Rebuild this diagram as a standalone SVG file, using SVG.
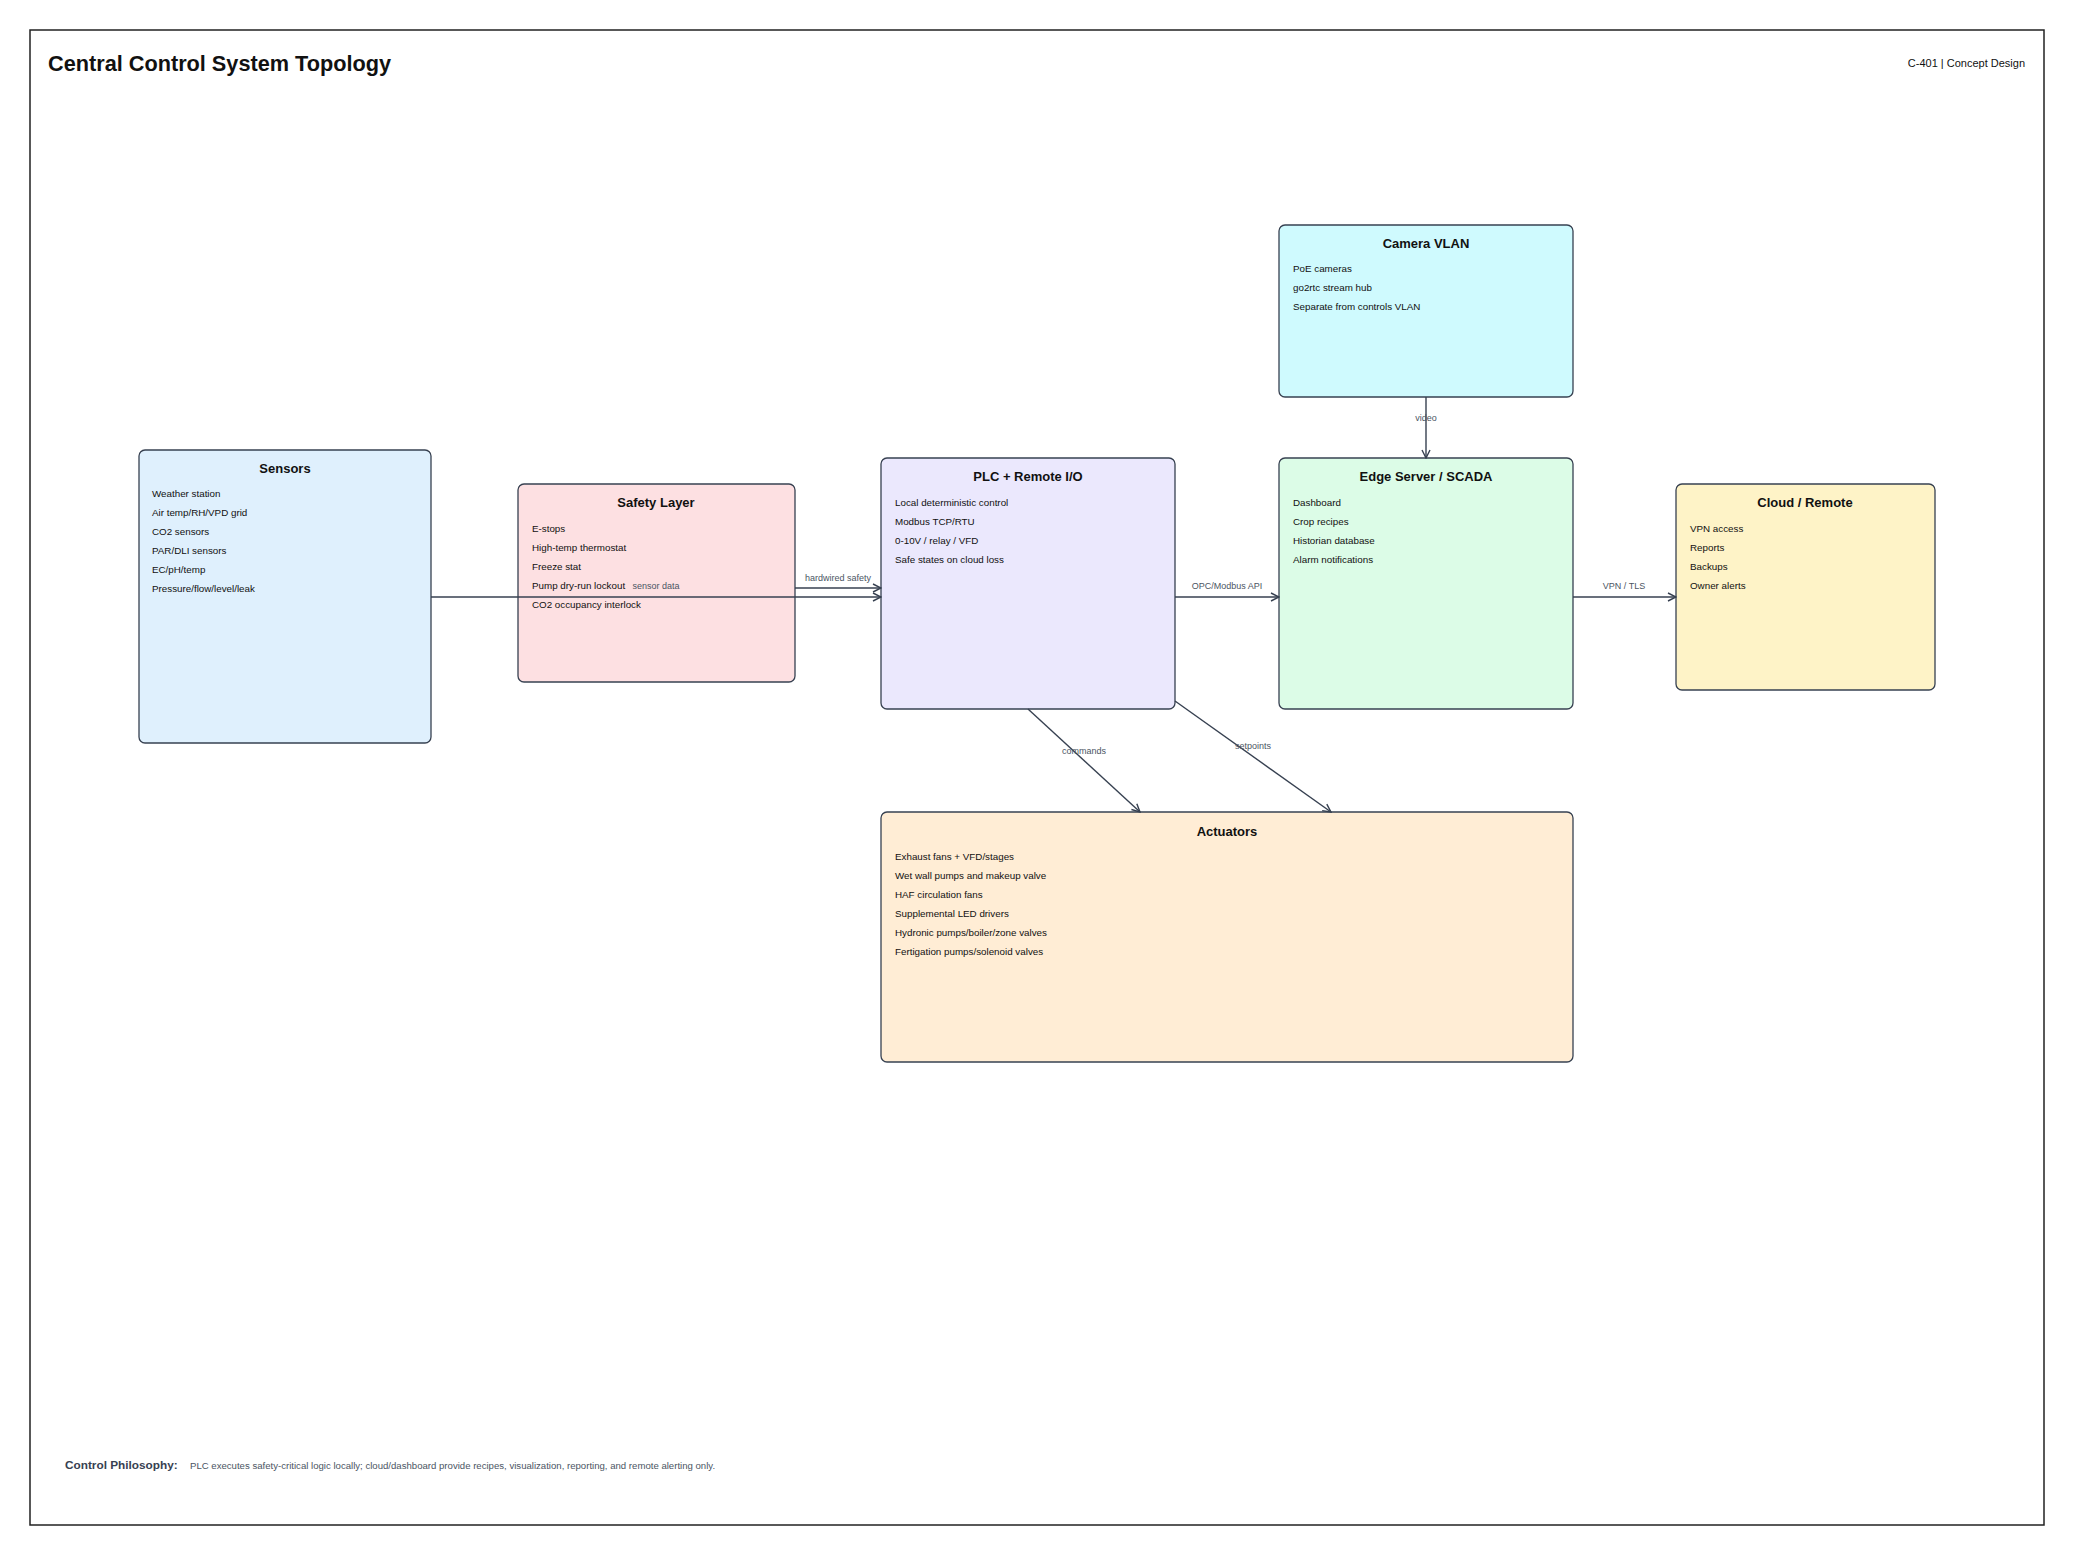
<svg xmlns="http://www.w3.org/2000/svg" width="2074" height="1556" viewBox="0 0 2074 1556">
<style>
text{font-family:"Liberation Sans",Arial,sans-serif;fill:#111}
.t{font-size:13px;font-weight:bold;text-anchor:middle}
.i{font-size:9.8px}
.l{font-size:9px;fill:#4b5563;text-anchor:middle}
.n{stroke:#374151;stroke-width:1.3}
.c{stroke:#374151;stroke-width:1.4;fill:none;marker-end:url(#a)}
</style>
<defs><marker id="a" viewBox="0 0 10 10" refX="9" refY="5" markerWidth="10" markerHeight="10" orient="auto" markerUnits="userSpaceOnUse"><path d="M1,1 L9,5 L1,9" fill="none" stroke="#374151" stroke-width="1.4"/></marker></defs>
<rect width="2074" height="1556" fill="#fff"/>
<rect x="30" y="30" width="2014" height="1495" fill="none" stroke="#222" stroke-width="1.5"/>
<text x="48" y="71" style="font-size:21.7px;font-weight:bold">Central Control System Topology</text>
<text x="2025" y="67" style="font-size:11px;text-anchor:end">C-401 | Concept Design</text>
<g id="sensors"><rect class="n" x="139" y="450" width="292" height="293" rx="6" fill="#dff0fd"/><text class="t" x="285" y="473">Sensors</text>
<text class="i" x="152" y="497">Weather station</text><text class="i" x="152" y="516">Air temp/RH/VPD grid</text><text class="i" x="152" y="535">CO2 sensors</text><text class="i" x="152" y="554">PAR/DLI sensors</text><text class="i" x="152" y="573">EC/pH/temp</text><text class="i" x="152" y="592">Pressure/flow/level/leak</text></g>
<g id="safety"><rect class="n" x="518" y="484" width="277" height="198" rx="6" fill="#fde0e2"/><text class="t" x="656" y="507">Safety Layer</text>
<text class="i" x="532" y="532">E-stops</text><text class="i" x="532" y="551">High-temp thermostat</text><text class="i" x="532" y="570">Freeze stat</text><text class="i" x="532" y="589">Pump dry-run lockout</text><text class="i" x="532" y="608">CO2 occupancy interlock</text></g>
<g id="plc"><rect class="n" x="881" y="458" width="294" height="251" rx="6" fill="#ebe8fd"/><text class="t" x="1028" y="481">PLC + Remote I/O</text>
<text class="i" x="895" y="506">Local deterministic control</text><text class="i" x="895" y="525">Modbus TCP/RTU</text><text class="i" x="895" y="544">0-10V / relay / VFD</text><text class="i" x="895" y="563">Safe states on cloud loss</text></g>
<g id="camera"><rect class="n" x="1279" y="225" width="294" height="172" rx="6" fill="#cffafe"/><text class="t" x="1426" y="248">Camera VLAN</text>
<text class="i" x="1293" y="272">PoE cameras</text><text class="i" x="1293" y="291">go2rtc stream hub</text><text class="i" x="1293" y="310">Separate from controls VLAN</text></g>
<g id="edge"><rect class="n" x="1279" y="458" width="294" height="251" rx="6" fill="#dcfce7"/><text class="t" x="1426" y="481">Edge Server / SCADA</text>
<text class="i" x="1293" y="506">Dashboard</text><text class="i" x="1293" y="525">Crop recipes</text><text class="i" x="1293" y="544">Historian database</text><text class="i" x="1293" y="563">Alarm notifications</text></g>
<g id="cloud"><rect class="n" x="1676" y="484" width="259" height="206" rx="6" fill="#fef3c7"/><text class="t" x="1805" y="507">Cloud / Remote</text>
<text class="i" x="1690" y="532">VPN access</text><text class="i" x="1690" y="551">Reports</text><text class="i" x="1690" y="570">Backups</text><text class="i" x="1690" y="589">Owner alerts</text></g>
<g id="actuators"><rect class="n" x="881" y="812" width="692" height="250" rx="6" fill="#ffedd5"/><text class="t" x="1227" y="836">Actuators</text>
<text class="i" x="895" y="860">Exhaust fans + VFD/stages</text><text class="i" x="895" y="879">Wet wall pumps and makeup valve</text><text class="i" x="895" y="898">HAF circulation fans</text><text class="i" x="895" y="917">Supplemental LED drivers</text><text class="i" x="895" y="936">Hydronic pumps/boiler/zone valves</text><text class="i" x="895" y="955">Fertigation pumps/solenoid valves</text></g>
<g id="connectors">
<path class="c" d="M431,597 H881"/><text class="l" x="656" y="589">sensor data</text>
<path class="c" d="M795,588 H881"/><text class="l" x="838" y="581">hardwired safety</text>
<path class="c" d="M1175,597 H1279"/><text class="l" x="1227" y="589">OPC/Modbus API</text>
<path class="c" d="M1573,597 H1676"/><text class="l" x="1624" y="589">VPN / TLS</text>
<path class="c" d="M1426,397 V458"/><text class="l" x="1426" y="421">video</text>
<path class="c" d="M1028,709 L1140,812"/><text class="l" x="1084" y="754">commands</text>
<path class="c" d="M1175,701 L1331,812"/><text class="l" x="1253" y="749">setpoints</text>
</g>
<text x="65" y="1469" style="font-size:11.8px;font-weight:bold;fill:#374151">Control Philosophy:</text>
<text x="190" y="1469" style="font-size:9.6px;fill:#4b5563">PLC executes safety-critical logic locally; cloud/dashboard provide recipes, visualization, reporting, and remote alerting only.</text>
</svg>
